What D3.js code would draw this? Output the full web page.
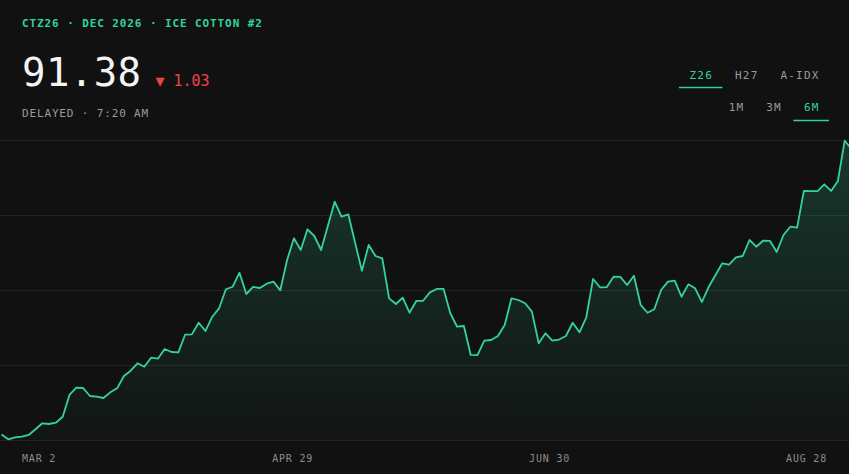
<!DOCTYPE html>
<html>
<head>
<meta charset="utf-8">
<title>CTZ26 - ICE Cotton #2</title>
<style>
  html, body { margin: 0; padding: 0; background: #111111; overflow: hidden; }
  svg { display: block; font-family: "DejaVu Sans Mono", "Liberation Mono", monospace; }
  .grid line { stroke: #222222; stroke-width: 1px; shape-rendering: crispEdges; }
  .line { fill: none; stroke: #34d399; stroke-width: 1.8px; stroke-linejoin: round; }
  .title { fill: #34d399; font-size: 11px; font-weight: bold; letter-spacing: 0.9px; }
  .price { fill: #f4f4f4; font-size: 39px; letter-spacing: 0.4px; }
  .change { fill: #ef4444; font-size: 15px; }
  .sub { fill: #9a9a9a; font-size: 11px; letter-spacing: 0.85px; }
  .btn { fill: #9a9a9a; font-size: 11px; letter-spacing: 1.2px; }
  .btn.on { fill: #34d399; }
  .tick-label { fill: #8d8d8d; font-size: 10px; letter-spacing: 0.8px; }
</style>
</head>
<body>
<div id="chart"></div>
<script src="https://cdn.jsdelivr.net/npm/d3@7"></script>
<script>
// header text
const titleText = "CTZ26 · DEC 2026 · ICE COTTON #2";
const lastPrice = "91.38";
const changeText = "1.03";
const statusText = "DELAYED · 7:20 AM";

// toggles
const contracts = ["Z26", "H27", "A-IDX"];
const activeContract = "Z26";
const ranges = ["1M", "3M", "6M"];
const activeRange = "6M";

// x axis labels
const tickLabels = ["MAR 2", "APR 29", "JUN 30", "AUG 28"];

// daily settle, 6 months
const prices = [
  55.69, 55.09, 55.34, 55.41, 55.63, 56.34, 57.09, 57.00, 57.16, 57.91,
  60.63, 61.54, 61.50, 60.50, 60.41, 60.25, 60.96, 61.46, 63.00, 63.66,
  64.59, 64.16, 65.29, 65.16, 66.38, 66.00, 65.96, 68.16, 68.20, 69.66,
  68.63, 70.41, 71.46, 73.84, 74.16, 75.91, 73.25, 74.13, 74.00, 74.54,
  74.79, 73.71, 77.50, 80.21, 78.75, 81.34, 80.50, 78.75, 81.79, 84.79,
  82.91, 83.21, 79.66, 76.16, 79.38, 78.00, 77.71, 72.71, 72.00, 72.79,
  70.91, 72.38, 72.40, 73.46, 73.88, 73.90, 70.84, 69.16, 69.25, 65.63,
  65.60, 67.41, 67.50, 68.00, 69.38, 72.71, 72.50, 72.09, 71.04, 67.09,
  68.34, 67.41, 67.56, 68.00, 69.66, 68.46, 70.34, 75.13, 74.09, 74.10,
  75.41, 75.40, 74.38, 75.54, 71.88, 70.91, 71.34, 73.75, 74.79, 74.91,
  72.91, 74.46, 73.96, 72.25, 74.13, 75.63, 77.09, 76.91, 77.84, 78.00,
  80.00, 79.16, 79.91, 79.90, 78.50, 80.63, 81.66, 81.54, 86.13, 86.10,
  86.12, 86.96, 86.13, 87.38, 92.41, 91.38
];

const width = 849,
    height = 474,
    plotTop = 140,
    plotBottom = 440,
    padX = 22;

const svg = d3.select("#chart").append("svg")
    .attr("width", width)
    .attr("height", height);

// ---- header ----
svg.append("text").attr("class", "title")
    .attr("x", 22).attr("y", 27)
    .text(titleText);

const priceNode = svg.append("text").attr("class", "price")
    .attr("x", 22).attr("y", 86)
    .text(lastPrice);

const priceEnd = 22 + priceNode.node().getComputedTextLength();

svg.append("text").attr("class", "change")
    .attr("x", priceEnd + 14).attr("y", 86)
    .text("▼ " + changeText);

svg.append("text").attr("class", "sub")
    .attr("x", 22).attr("y", 117)
    .text(statusText);

// toggle rows, laid out from the right edge
function buttonRow(items, active, baseline, lineY) {
    let right = 829;
    const pad = 10;
    const g = svg.append("g");
    items.slice().reverse().forEach(function (d) {
        const t = g.append("text")
            .attr("class", d === active ? "btn on" : "btn")
            .attr("y", baseline)
            .text(d);
        const w = t.node().getComputedTextLength();
        const left = right - w - pad * 2;
        t.attr("x", left + pad + 0.6);
        if (d === active) {
            g.append("line")
                .attr("x1", left).attr("x2", right)
                .attr("y1", lineY).attr("y2", lineY)
                .attr("stroke", "#34d399")
                .attr("stroke-width", 1.5);
        }
        right = left - 2;
    });
}
buttonRow(contracts, activeContract, 78.5, 87.5);
buttonRow(ranges, activeRange, 111, 120.5);

// ---- chart ----
const x = d3.scaleLinear()
    .domain([0, prices.length - 1])
    .range([1.5, width + 2.5]);

const y = d3.scaleLinear()
    .domain([55, 92.5])
    .range([plotBottom, plotTop]);

const yDom = y.domain();
const gridValues = d3.range(5).map(function (k) { return yDom[0] + k * (yDom[1] - yDom[0]) / 4; });

svg.append("g").attr("class", "grid")
    .selectAll("line")
    .data(gridValues)
    .enter().append("line")
    .attr("x1", 0).attr("x2", width)
    .attr("y1", function (d) { return Math.round(y(d)) + 0.5; })
    .attr("y2", function (d) { return Math.round(y(d)) + 0.5; });

const grad = svg.append("defs").append("linearGradient")
    .attr("id", "fillGrad")
    .attr("gradientUnits", "userSpaceOnUse")
    .attr("x1", 0).attr("x2", 0)
    .attr("y1", y(d3.max(prices))).attr("y2", plotBottom);
grad.append("stop").attr("offset", "0%").attr("stop-color", "#34d399").attr("stop-opacity", 0.2);
grad.append("stop").attr("offset", "100%").attr("stop-color", "#34d399").attr("stop-opacity", 0.02);

const area = d3.area()
    .x(function (d, i) { return x(i); })
    .y0(plotBottom)
    .y1(function (d) { return y(d); });

const line = d3.line()
    .x(function (d, i) { return x(i); })
    .y(function (d) { return y(d); });

svg.append("path")
    .datum(prices)
    .attr("fill", "url(#fillGrad)")
    .attr("d", area);

svg.append("path")
    .datum(prices)
    .attr("class", "line")
    .attr("d", line);

// ---- x labels, spread between the paddings ----
const labels = svg.append("g").selectAll("text")
    .data(tickLabels)
    .enter().append("text")
    .attr("class", "tick-label")
    .attr("y", 462)
    .text(function (d) { return d; });

const widths = [];
labels.each(function () { widths.push(this.getComputedTextLength()); });
const gap = (width - 2 * padX - d3.sum(widths)) / (tickLabels.length - 1);
let cursor = padX;
labels.attr("x", function (d, i) {
    const pos = cursor;
    cursor += widths[i] + gap;
    return pos;
});
</script>
</body>
</html>
